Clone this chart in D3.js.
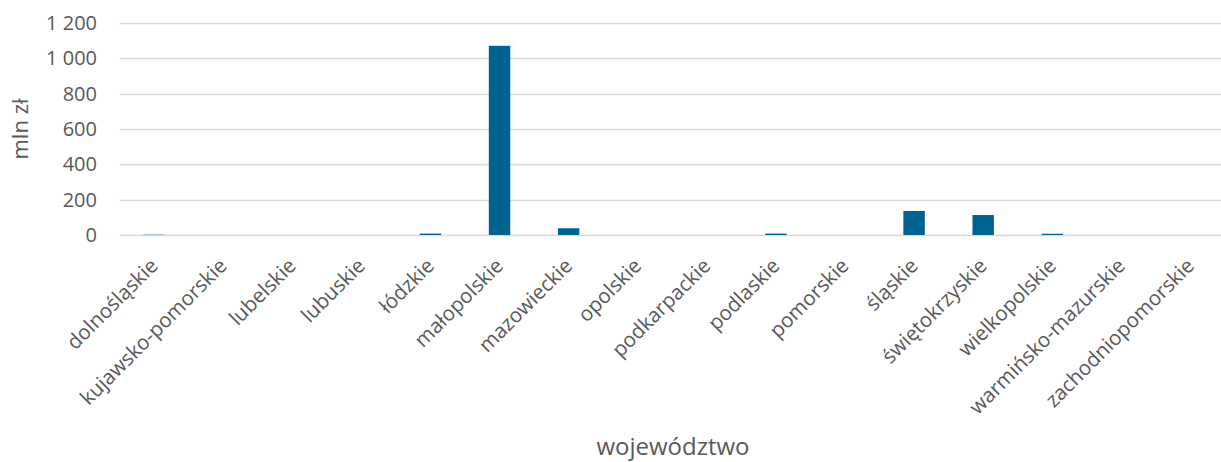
<!DOCTYPE html>
<html><head><meta charset="utf-8">
<script src="https://cdn.jsdelivr.net/npm/d3@7"></script>
<style>body{margin:0;background:#fff}svg{display:block}text{font-family:"Open Sans",sans-serif;fill:#595959}</style>
</head><body>
<svg id="c" width="1221" height="462"></svg>
<script>
const categories = ["dolnośląskie","kujawsko-pomorskie","lubelskie","lubuskie","łódzkie","małopolskie","mazowieckie","opolskie","podkarpackie","podlaskie","pomorskie","śląskie","świętokrzyskie","wielkopolskie","warmińsko-mazurskie","zachodniopomorskie"];
const values = [6,0,0,0,8,1071,38,0,0,8,0,136,113,7,0,0];
const barColors = ["#a8c8d8","#00628f","#00628f","#00628f","#00628f","#00628f","#00628f","#00628f","#00628f","#00628f","#00628f","#00628f","#00628f","#00628f","#00628f","#00628f"];
const yTicks = [0,200,400,600,800,1000,1200];
const yTitle = "mln zł";
const xTitle = "województwo";

const svg = d3.select("#c");
const mLeft = 119.5, mRight = 1225, mTop = 23, mBottom = 235;
const x = d3.scaleBand().domain(categories).range([mLeft, mRight]).paddingInner(0.69).paddingOuter(0.345);
const y = d3.scaleLinear().domain([0,1200]).range([mBottom, mTop]);

svg.append("g").selectAll("line").data(yTicks).join("line")
  .attr("x1", mLeft).attr("x2", 1221)
  .attr("y1", d => Math.round(y(d)) + 0.5).attr("y2", d => Math.round(y(d)) + 0.5)
  .attr("stroke", "#d9d9d9").attr("stroke-width", 1.5);

svg.append("g").selectAll("text").data(yTicks).join("text")
  .attr("x", 97).attr("y", d => y(d)).attr("dy", "0.35em")
  .attr("text-anchor", "end").style("font-size", "20px")
  .text(d => d3.format(",")(d).replace(/,/g, " "));

svg.append("g").selectAll("rect").data(categories).join("rect")
  .attr("x", d => x(d)).attr("width", x.bandwidth())
  .attr("y", (d,i) => y(values[i])).attr("height", (d,i) => mBottom - y(values[i]))
  .attr("fill", (d,i) => barColors[i]);

svg.append("g").selectAll("text").data(categories).join("text")
  .attr("transform", d => `translate(${x(d) + x.bandwidth()/2 + 5},${mBottom + 32}) rotate(-45)`)
  .attr("text-anchor", "end").style("font-size", "20.5px")
  .text(d => d);

svg.append("text").attr("transform", `translate(28,${129}) rotate(-90)`)
  .attr("text-anchor", "middle").style("font-size", "22px").text(yTitle);

svg.append("text").attr("x", 673).attr("y", 455)
  .attr("text-anchor", "middle").style("font-size", "24px").text(xTitle);
</script>
</body></html>
